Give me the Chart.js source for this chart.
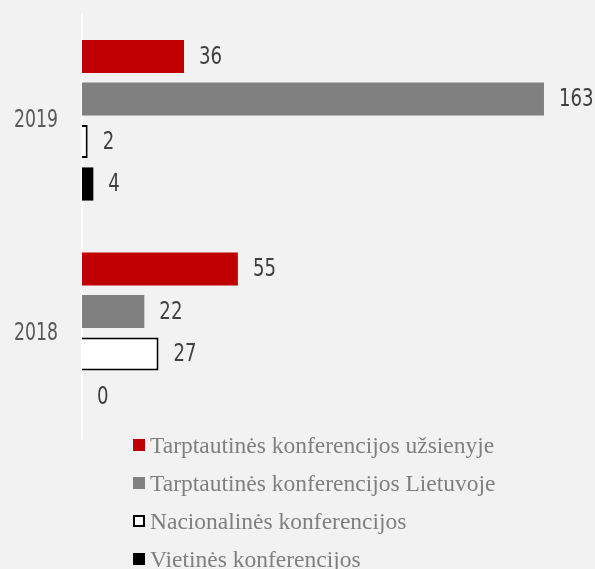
<!DOCTYPE html>
<html>
<head>
<meta charset="utf-8">
<script src="https://cdn.jsdelivr.net/npm/chart.js@4/dist/chart.umd.min.js"></script>
<style>
  html, body { margin: 0; padding: 0; background: #f2f2f2; }
  #wrap { position: relative; width: 595px; height: 569px; background: #f2f2f2; overflow: hidden; }
  #c { position: absolute; left: 0; top: 0; }
  #legend { position: absolute; left: 133px; top: 426px; font-family: "Liberation Serif", "Times New Roman", serif; font-size: 23.5px; color: #7f7f7f; }
  .row { display: flex; align-items: center; height: 38px; line-height: 38px; white-space: nowrap; }
  .mk { width: 12px; height: 12px; box-sizing: border-box; margin-right: 5px; flex: none; }
</style>
</head>
<body>
<div id="wrap">
  <canvas id="c" width="595" height="441"></canvas>
  <div id="legend"></div>
</div>
<script>
const categories = ['2019', '2018'];
const seriesNames = [
  'Tarptautinės konferencijos užsienyje',
  'Tarptautinės konferencijos Lietuvoje',
  'Nacionalinės konferencijos',
  'Vietinės konferencijos'
];
const tarptautinesUzsienyje = [36, 55];
const tarptautinesLietuvoje = [163, 22];
const nacionalines = [2, 27];
const vietines = [4, 0];

const seriesValues = [tarptautinesUzsienyje, tarptautinesLietuvoje, nacionalines, vietines];
const fills = ['#c00000', '#808080', '#ffffff', '#000000'];
const borders = ['#c00000', '#808080', '#000000', '#000000'];
const borderWidths = [0, 0, 2, 0];

const numFont = '"DejaVu Sans Condensed", "DejaVu Sans", sans-serif';

const datasets = seriesNames.map((name, i) => ({
  label: name,
  data: seriesValues[i],
  backgroundColor: fills[i],
  borderColor: borders[i],
  borderWidth: borderWidths[i],
  categoryPercentage: 0.8,
  barPercentage: 0.78
}));

// draw narrow (condensed) text by scaling horizontally
function narrowText(ctx, text, x, y, sx) {
  ctx.save();
  ctx.translate(x, y);
  ctx.scale(sx, 1);
  ctx.fillText(text, 0, 0);
  ctx.restore();
}

const valueLabels = {
  id: 'valueLabels',
  afterDatasetsDraw(chart) {
    const ctx = chart.ctx;
    ctx.save();
    ctx.font = '24px ' + numFont;
    ctx.fillStyle = '#404040';
    ctx.textAlign = 'left';
    ctx.textBaseline = 'middle';
    chart.data.datasets.forEach((ds, di) => {
      const meta = chart.getDatasetMeta(di);
      meta.data.forEach((el, j) => {
        narrowText(ctx, String(ds.data[j]), el.x + 15, el.y + 1, 0.84);
      });
    });
    // category (tick) labels of the y axis
    const yScale = chart.scales.y;
    ctx.fillStyle = '#595959';
    ctx.textAlign = 'right';
    yScale.getTicks().forEach((t, i) => {
      const py = yScale.getPixelForTick(i);
      narrowText(ctx, String(chart.data.labels[t.value]), 58, py + 1, 0.8);
    });
    ctx.restore();
  }
};

new Chart(document.getElementById('c'), {
  type: 'bar',
  data: { labels: categories, datasets },
  options: {
    indexAxis: 'y',
    responsive: false,
    animation: false,
    layout: { padding: { top: 14, bottom: 2, right: 0, left: 0 } },
    plugins: { legend: { display: false }, tooltip: { enabled: false } },
    scales: {
      x: { display: false, min: 0, max: 181 },
      y: {
        grid: { display: false, drawTicks: false },
        border: { display: true, color: '#ffffff', width: 2 },
        ticks: { display: false },
        afterFit(scale) { scale.width = 82; scale.paddingTop = 0; scale.paddingBottom = 0; }
      }
    }
  },
  plugins: [valueLabels]
});

const legend = document.getElementById('legend');
seriesNames.forEach((name, i) => {
  const row = document.createElement('div');
  row.className = 'row';
  const mk = document.createElement('span');
  mk.className = 'mk';
  mk.style.background = fills[i];
  if (borderWidths[i] > 0) mk.style.border = '2px solid ' + borders[i];
  const t = document.createElement('span');
  t.textContent = name;
  row.appendChild(mk);
  row.appendChild(t);
  legend.appendChild(row);
});
</script>
</body>
</html>
